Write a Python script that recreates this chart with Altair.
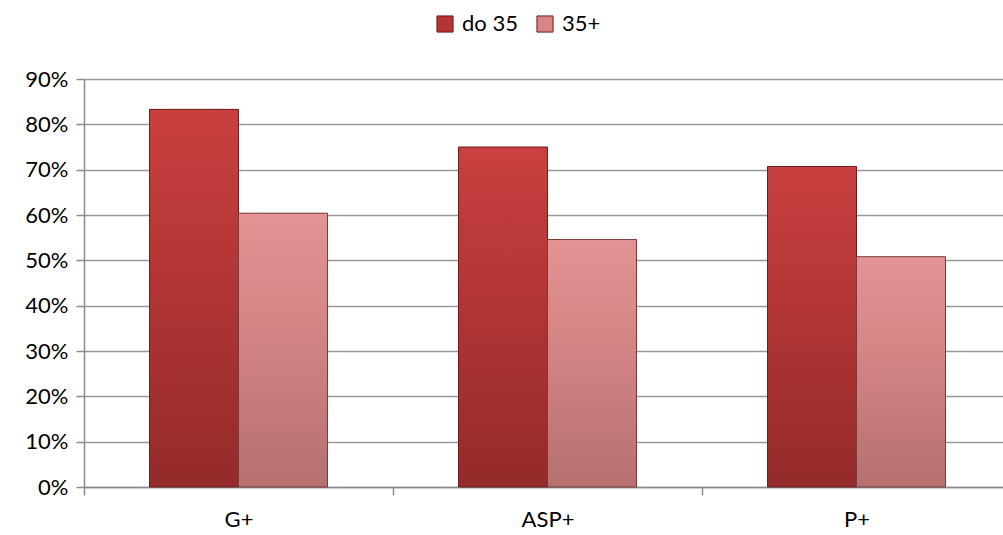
import altair as alt
import pandas as pd

categories = ["G+", "ASP+", "P+"]
groups = ["do 35", "35+"]
do35_values = [0.833, 0.750, 0.707]
plus35_values = [0.604, 0.546, 0.508]

rows = []
for c, a, b in zip(categories, do35_values, plus35_values):
    rows.append({"cat": c, "group": groups[0], "value": a})
    rows.append({"cat": c, "group": groups[1], "value": b})
df = pd.DataFrame(rows)

FONT = "Lato"
FS = 22

x_enc = alt.X("cat:N", sort=categories, title=None,
              scale=alt.Scale(paddingInner=0, paddingOuter=0, range=[0, 927]),
              axis=alt.Axis(labelAngle=0, labelFontSize=FS, labelFont=FONT, labelColor="#000",
                            tickBand="extent", tickSize=8, tickColor="#8c8c8c", tickWidth=1.5,
                            domainColor="#8c8c8c", domainWidth=1.5, labelPadding=14, grid=False))
y_enc = alt.Y("value:Q", title=None,
              scale=alt.Scale(domain=[0, 0.9], nice=False),
              axis=alt.Axis(format=".0%", values=[i / 10 for i in range(10)],
                            labelFontSize=FS, labelFont=FONT, labelColor="#000",
                            tickSize=8, tickColor="#8c8c8c", tickWidth=1.5,
                            domainColor="#8c8c8c", domainWidth=1.5,
                            gridColor="#999999", gridWidth=1.5, labelPadding=8))
xo = alt.XOffset("group:N", sort=groups,
                 scale=alt.Scale(paddingInner=0, paddingOuter=0.736))

base = alt.Chart(df).mark_bar().encode(
    x=x_enc, y=y_enc, xOffset=xo,
    color=alt.Color("group:N", sort=groups, title=None,
                    scale=alt.Scale(domain=groups, range=["#B53535", "#D98585"]),
                    legend=alt.Legend(orient="none", direction="horizontal",
                                      legendX=350, legendY=-66,
                                      labelFontSize=FS, labelFont=FONT, labelColor="#000",
                                      symbolType="square", symbolSize=260,
                                      symbolStrokeColor="#6b1b1b", symbolStrokeWidth=1,
                                      columnPadding=16, labelOffset=6)),
)

grad1 = alt.Gradient(gradient="linear", x1=0, x2=0, y1=0, y2=1,
                     stops=[alt.GradientStop(color="#C94040", offset=0),
                            alt.GradientStop(color="#B53636", offset=0.4),
                            alt.GradientStop(color="#942A2A", offset=1)])
grad2 = alt.Gradient(gradient="linear", x1=0, x2=0, y1=0, y2=1,
                     stops=[alt.GradientStop(color="#E39393", offset=0),
                            alt.GradientStop(color="#D68585", offset=0.4),
                            alt.GradientStop(color="#B57070", offset=1)])

over1 = alt.Chart(df).transform_filter(alt.datum.group == "do 35").mark_bar(
    fill=grad1, stroke="#6e1e1e", strokeWidth=1).encode(x=x_enc, y=y_enc, xOffset=xo)
over2 = alt.Chart(df).transform_filter(alt.datum.group == "35+").mark_bar(
    fill=grad2, stroke="#7a3a3a", strokeWidth=1).encode(x=x_enc, y=y_enc, xOffset=xo)

chart = alt.layer(base, over1, over2).properties(
    width=919, height=408,
    padding={"left": 84, "top": 79, "right": 0, "bottom": 48},
    autosize=alt.AutoSizeParams(type="none"),
).configure_view(stroke=None)

chart.save("out.html", embed_options={"renderer": "svg", "actions": False})
